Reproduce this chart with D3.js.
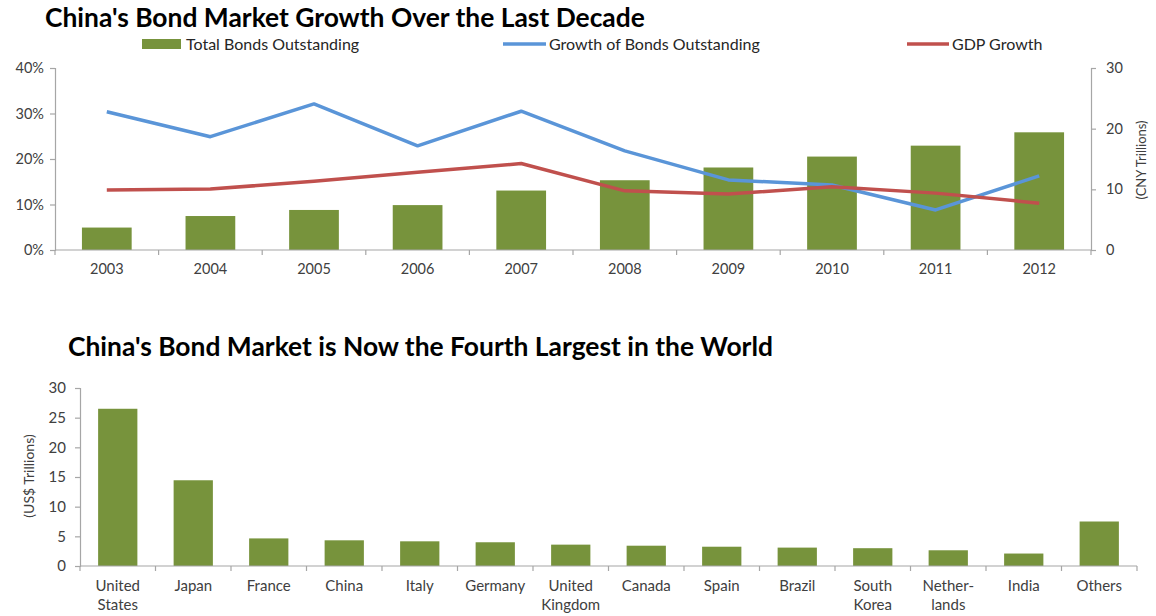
<!DOCTYPE html>
<html>
<head>
<meta charset="utf-8">
<script src="https://cdn.jsdelivr.net/npm/d3@7"></script>
<style>
  html, body { margin: 0; padding: 0; background: #ffffff; }
  svg { display: block; }
  text { font-family: Lato, "Open Sans", sans-serif; }
</style>
</head>
<body>
<svg id="chart" width="1156" height="616"></svg>
<script>
// ---- Top panel: bond market growth, 2003-2012 ----
const years = ["2003", "2004", "2005", "2006", "2007", "2008", "2009", "2010", "2011", "2012"];
const totalBonds = [3.7, 5.6, 6.6, 7.4, 9.8, 11.5, 13.6, 15.4, 17.2, 19.4];      // CNY trillions
const bondGrowth = [30.4, 24.9, 32.1, 22.9, 30.5, 21.8, 15.4, 14.3, 8.8, 16.3];   // %
const gdpGrowth  = [13.2, 13.4, 15.1, 17.1, 19.0, 13.0, 12.3, 13.9, 12.5, 10.3];  // %
const pctTicks = [0, 10, 20, 30, 40];
const cnyTicks = [0, 10, 20, 30];

// ---- Bottom panel: bond market size by country ----
const countries = [["United", "States"], ["Japan"], ["France"], ["China"], ["Italy"], ["Germany"],
  ["United", "Kingdom"], ["Canada"], ["Spain"], ["Brazil"], ["South", "Korea"], ["Nether-", "lands"],
  ["India"], ["Others"]];
const marketSize = [26.5, 14.45, 4.65, 4.33, 4.16, 4.0, 3.6, 3.42, 3.25, 3.1, 3.0, 2.65, 2.1, 7.5]; // US$ trillions
const usdTicks = [0, 5, 10, 15, 20, 25, 30];

const GREEN = "#77933c", BLUE = "#5a95d8", RED = "#c0504d";
const AXIS = "#a6a6a6", LABEL = "#404040";

const svg = d3.select("#chart");

function styleAxis(g, size) {
  g.select(".domain").attr("stroke", AXIS).attr("stroke-width", 1.2);
  g.selectAll(".tick line").attr("stroke", AXIS).attr("stroke-width", 1.2);
  g.selectAll(".tick text").attr("fill", LABEL).style("font-size", (size || 14) + "px")
    .style("font-family", "Lato, 'Open Sans', sans-serif");
}

// ===== Top chart =====
(function () {
  const left = 55, right = 1091, top = 68, bottom = 250;
  const x = d3.scaleBand().domain(years).range([left, right]).paddingInner(0.52).paddingOuter(0.26);
  const xEdges = d3.scaleBand().domain(years).range([left, right]);
  const yL = d3.scaleLinear().domain([0, 40]).range([bottom, top]);
  const yR = d3.scaleLinear().domain([0, 30]).range([bottom, top]);

  svg.append("text").attr("x", 45).attr("y", 27)
    .attr("font-size", 26.4).attr("font-weight", 700).attr("fill", "#000")
    .text("China's Bond Market Growth Over the Last Decade");

  // legend
  const lg = svg.append("g");
  lg.append("rect").attr("x", 142).attr("y", 39).attr("width", 39).attr("height", 10).attr("fill", GREEN);
  lg.append("text").attr("x", 186).attr("y", 49.5).attr("font-size", 16).attr("fill", "#262626").text("Total Bonds Outstanding");
  lg.append("line").attr("x1", 503).attr("x2", 546).attr("y1", 44).attr("y2", 44).attr("stroke", BLUE).attr("stroke-width", 3.5);
  lg.append("text").attr("x", 549).attr("y", 49.5).attr("font-size", 16).attr("fill", "#262626").text("Growth of Bonds Outstanding");
  lg.append("line").attr("x1", 907).attr("x2", 949).attr("y1", 44).attr("y2", 44).attr("stroke", RED).attr("stroke-width", 3.5);
  lg.append("text").attr("x", 952).attr("y", 49.5).attr("font-size", 16).attr("fill", "#262626").text("GDP Growth");

  // bars on the right (CNY) axis
  svg.append("g").selectAll("rect").data(years).join("rect")
    .attr("x", d => x(d)).attr("width", x.bandwidth())
    .attr("y", (d, i) => yR(totalBonds[i])).attr("height", (d, i) => bottom - yR(totalBonds[i]))
    .attr("fill", GREEN);

  // axes
  const gx = svg.append("g").attr("transform", `translate(0,${bottom})`)
    .call(d3.axisBottom(xEdges).tickSize(0).tickPadding(14));
  styleAxis(gx, 14.5);
  gx.select(".domain").attr("d", `M${left},0H${right}`);
  gx.selectAll(".sep").data(d3.range(years.length + 1)).join("line").attr("class", "sep")
    .attr("x1", i => left + i * xEdges.step()).attr("x2", i => left + i * xEdges.step())
    .attr("y1", 0).attr("y2", 5).attr("stroke", AXIS).attr("stroke-width", 1.2);

  const gl = svg.append("g").attr("transform", `translate(${left},0)`)
    .call(d3.axisLeft(yL).tickValues(pctTicks).tickFormat(d => d + "%").tickSizeOuter(0).tickSize(5).tickPadding(6));
  styleAxis(gl, 14.5);

  const gr = svg.append("g").attr("transform", `translate(${right},0)`)
    .call(d3.axisRight(yR).tickValues(cnyTicks).tickSizeOuter(0).tickSize(5).tickPadding(10));
  styleAxis(gr, 14.5);

  svg.append("text").attr("transform", `translate(1146,160) rotate(-90)`)
    .attr("text-anchor", "middle").attr("font-size", 13).attr("fill", LABEL).text("(CNY Trillions)");

  // lines on the left (%) axis
  const cx = d => xEdges(d) + xEdges.bandwidth() / 2;
  const line = vals => d3.line().x(d => cx(d)).y((d, i) => yL(vals[i]))(years);
  svg.append("path").attr("d", line(bondGrowth)).attr("fill", "none")
    .attr("stroke", BLUE).attr("stroke-width", 3.5).attr("stroke-linejoin", "round");
  svg.append("path").attr("d", line(gdpGrowth)).attr("fill", "none")
    .attr("stroke", RED).attr("stroke-width", 3.5).attr("stroke-linejoin", "round");
})();

// ===== Bottom chart =====
(function () {
  const left = 80, right = 1137, top = 388, bottom = 566;
  const names = countries.map(c => c.join(" "));
  const xEdges = d3.scaleBand().domain(names).range([left, right]);
  const x = d3.scaleBand().domain(names).range([left, right]).paddingInner(0.48).paddingOuter(0.24);
  const y = d3.scaleLinear().domain([0, 30]).range([bottom, top]);

  svg.append("text").attr("x", 68).attr("y", 356)
    .attr("font-size", 26.4).attr("font-weight", 700).attr("fill", "#000")
    .text("China's Bond Market is Now the Fourth Largest in the World");

  svg.append("g").selectAll("rect").data(names).join("rect")
    .attr("x", d => x(d)).attr("width", x.bandwidth())
    .attr("y", (d, i) => y(marketSize[i])).attr("height", (d, i) => bottom - y(marketSize[i]))
    .attr("fill", GREEN);

  const gx = svg.append("g").attr("transform", `translate(0,${bottom})`)
    .call(d3.axisBottom(xEdges).tickSize(0).tickFormat(() => ""));
  styleAxis(gx);
  gx.select(".domain").attr("d", `M${left},0H${right}`);
  gx.selectAll(".sep").data(d3.range(names.length + 1)).join("line").attr("class", "sep")
    .attr("x1", i => left + i * xEdges.step()).attr("x2", i => left + i * xEdges.step())
    .attr("y1", 0).attr("y2", 5).attr("stroke", AXIS).attr("stroke-width", 1.2);
  gx.selectAll(".tick").each(function (d, i) {
    const t = d3.select(this).append("text").attr("fill", LABEL).attr("text-anchor", "middle")
      .style("font-size", "15px").style("font-family", "Lato, 'Open Sans', sans-serif");
    countries[i].forEach((s, k) => t.append("tspan").attr("x", 0).attr("y", 25 + k * 19).text(s));
  });

  const gl = svg.append("g").attr("transform", `translate(${left},0)`)
    .call(d3.axisLeft(y).tickValues(usdTicks).tickSizeOuter(0).tickSize(5).tickPadding(9));
  styleAxis(gl, 15);

  svg.append("text").attr("transform", `translate(34,476) rotate(-90)`)
    .attr("text-anchor", "middle").attr("font-size", 14).attr("fill", LABEL).text("(US$ Trillions)");
})();
</script>
</body>
</html>
